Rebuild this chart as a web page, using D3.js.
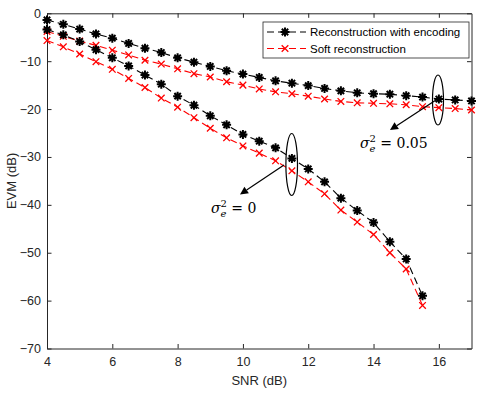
<!DOCTYPE html>
<html>
<head>
<meta charset="utf-8">
<script src="https://cdn.jsdelivr.net/npm/d3@7"></script>
<style>
  body { margin: 0; background: #fff; }
  text { font-family: "Liberation Sans", Arial, sans-serif; }
</style>
</head>
<body>
<svg id="chart" width="479" height="393"></svg>
<script>
// SNR values (dB)
let snrHigh = d3.range(4, 17.01, 0.5);   // sigma_e^2 = 0.05 curves
let snrLow = d3.range(4, 15.51, 0.5);    // sigma_e^2 = 0 curves

// sigma_e^2 = 0.05
let encHigh = [-1.4, -2.3, -3.3, -4.3, -5.2, -6.3, -7.3, -8.2, -9.3, -10.2, -11.1, -12.0, -12.7, -13.4,
  -14.1, -14.6, -15.1, -15.7, -16.2, -16.6, -16.8, -16.9, -17.2, -17.5, -17.9, -18.1, -18.3];
let softHigh = [-3.8, -4.8, -5.8, -6.7, -7.7, -8.7, -9.8, -10.6, -11.6, -12.6, -13.3, -14.3, -15.0, -15.8,
  -16.4, -16.8, -17.3, -17.9, -18.4, -18.7, -18.8, -18.9, -19.1, -19.5, -19.7, -19.9, -20.2];

// sigma_e^2 = 0
let encLow = [-3.4, -4.5, -5.9, -7.6, -9.3, -11.0, -12.9, -14.8, -17.3, -19.2, -21.4, -23.3, -25.3, -26.7,
  -28.1, -30.3, -32.5, -35.2, -38.6, -41.2, -43.7, -47.7, -51.3, -59.0];
let softLow = [-5.7, -7.0, -8.5, -10.1, -11.7, -13.6, -15.5, -17.7, -19.6, -21.8, -24.0, -26.0, -27.7, -29.2,
  -30.8, -32.9, -35.2, -37.7, -41.1, -43.6, -46.2, -50.0, -53.4, -61.0];

let xTicks = [4, 6, 8, 10, 12, 14, 16];
let yTicks = [0, -10, -20, -30, -40, -50, -60, -70];

let margin = { top: 13.3, right: 7.5, bottom: 44.5, left: 47 };
let width = 479 - margin.left - margin.right;
let height = 393 - margin.top - margin.bottom;

let svg = d3.select("#chart");
let g = svg.append("g").attr("transform", "translate(" + margin.left + "," + margin.top + ")");

let x = d3.scaleLinear().domain([4, 17]).range([0, width]);
let y = d3.scaleLinear().domain([-70, 0]).range([height, 0]);

let axisColor = "#262626";

// axes with inward ticks
let xAxis = g.append("g").attr("transform", "translate(0," + height + ")")
  .call(d3.axisBottom(x).tickValues(xTicks).tickSizeInner(-4.5).tickSizeOuter(0).tickPadding(9));
let yAxis = g.append("g")
  .call(d3.axisLeft(y).tickValues(yTicks).tickSizeInner(-4.5).tickSizeOuter(0).tickPadding(6));
let xTop = g.append("g")
  .call(d3.axisTop(x).tickValues(xTicks).tickSizeInner(-4.5).tickSizeOuter(0).tickFormat(""));
let yRight = g.append("g").attr("transform", "translate(" + width + ",0)")
  .call(d3.axisRight(y).tickValues(yTicks).tickSizeInner(-4.5).tickSizeOuter(0).tickFormat(""));

[xAxis, yAxis, xTop, yRight].forEach(function (a) {
  a.select(".domain").attr("stroke", axisColor);
  a.selectAll(".tick line").attr("stroke", axisColor);
  a.selectAll(".tick text").attr("fill", axisColor).style("font-size", "12.5px")
    .style("font-family", "'Liberation Sans', Arial, sans-serif");
});

g.append("text")
  .attr("x", width / 2).attr("y", height + 37)
  .attr("text-anchor", "middle").attr("fill", axisColor).style("font-size", "13px")
  .text("SNR (dB)");

g.append("text")
  .attr("transform", "translate(" + (-31) + "," + (height / 2) + ") rotate(-90)")
  .attr("text-anchor", "middle").attr("fill", axisColor).style("font-size", "13px")
  .text("EVM (dB)");

// marker shapes
function starPath(r) {
  let d = "";
  for (let k = 0; k < 4; k++) {
    let a = k * Math.PI / 4;
    let dx = r * Math.cos(a), dy = r * Math.sin(a);
    d += "M" + (-dx) + "," + (-dy) + "L" + dx + "," + dy;
  }
  return d;
}
function crossPath(r) {
  return "M" + (-r) + "," + (-r) + "L" + r + "," + r + "M" + (-r) + "," + r + "L" + r + "," + (-r);
}

let line = d3.line().x(function (d) { return x(d[0]); }).y(function (d) { return y(d[1]); });

let series = [
  { xs: snrHigh, ys: encHigh, color: "#000000", marker: "star" },
  { xs: snrHigh, ys: softHigh, color: "#ff0000", marker: "cross" },
  { xs: snrLow, ys: encLow, color: "#000000", marker: "star" },
  { xs: snrLow, ys: softLow, color: "#ff0000", marker: "cross" }
];

series.forEach(function (s) {
  let pts = s.xs.map(function (v, i) { return [v, s.ys[i]]; });
  g.append("path")
    .datum(pts)
    .attr("d", line)
    .attr("fill", "none")
    .attr("stroke", s.color)
    .attr("stroke-width", 1.1)
    .attr("stroke-dasharray", "7,4");
  g.selectAll(null)
    .data(pts)
    .enter()
    .append("path")
    .attr("transform", function (d) { return "translate(" + x(d[0]) + "," + y(d[1]) + ")"; })
    .attr("d", s.marker === "star" ? starPath(4.5) : crossPath(3.3))
    .attr("stroke", s.color)
    .attr("stroke-width", s.marker === "star" ? 2 : 1.3)
    .attr("fill", "none");
});

// legend
let legend = svg.append("g").attr("transform", "translate(263,22)");
legend.append("rect")
  .attr("width", 206).attr("height", 36)
  .attr("fill", "#fff").attr("stroke", axisColor).attr("stroke-width", 0.8);
let legendItems = [
  { label: "Reconstruction with encoding", color: "#000000", marker: "star" },
  { label: "Soft reconstruction", color: "#ff0000", marker: "cross" }
];
legendItems.forEach(function (item, i) {
  let ly = 10 + i * 16.5;
  legend.append("line")
    .attr("x1", 3).attr("x2", 43).attr("y1", ly).attr("y2", ly)
    .attr("stroke", item.color).attr("stroke-width", 1.1).attr("stroke-dasharray", "7,4").attr("stroke-dashoffset", -1);
  legend.append("path")
    .attr("transform", "translate(22," + ly + ")")
    .attr("d", item.marker === "star" ? starPath(4.5) : crossPath(3.3))
    .attr("stroke", item.color).attr("stroke-width", item.marker === "star" ? 2 : 1.3);
  legend.append("text")
    .attr("x", 47).attr("y", ly + 4)
    .attr("fill", "#000").style("font-size", "11.5px")
    .text(item.label);
});

// annotations
function annotate(cx, cy, rx, ry, x1, y1, x2, y2, tx, ty, value) {
  svg.append("ellipse")
    .attr("cx", cx).attr("cy", cy).attr("rx", rx).attr("ry", ry)
    .attr("fill", "none").attr("stroke", "#000").attr("stroke-width", 1.2);
  let ang = Math.atan2(y2 - y1, x2 - x1);
  let hl = 8, hw = 4;
  let bx = x2 - hl * Math.cos(ang), by = y2 - hl * Math.sin(ang);
  svg.append("line")
    .attr("x1", x1).attr("y1", y1).attr("x2", bx).attr("y2", by)
    .attr("stroke", "#000").attr("stroke-width", 1.2);
  svg.append("path")
    .attr("d", "M" + x2 + "," + y2 +
      "L" + (bx + hw * Math.sin(ang)) + "," + (by - hw * Math.cos(ang)) +
      "L" + (bx - hw * Math.sin(ang)) + "," + (by + hw * Math.cos(ang)) + "Z")
    .attr("fill", "#000");
  let t = svg.append("text")
    .attr("x", tx).attr("y", ty)
    .style("font-family", "'DejaVu Serif', 'Liberation Serif', serif")
    .style("font-size", "14px").attr("fill", "#000");
  t.append("tspan").style("font-style", "italic").text("σ");
  t.append("tspan").attr("dy", 4).style("font-size", "10px").style("font-style", "italic").text("e");
  t.append("tspan").attr("dx", -6).attr("dy", -10).style("font-size", "10px").text("2");
  t.append("tspan").attr("dy", 6).text(" = " + value);
}

annotate(291.7, 164.5, 5.8, 31, 284, 165, 240, 194.5, 211, 213, "0");
annotate(438, 100, 5.5, 25, 436, 100, 390, 130, 360, 148, "0.05");
</script>
</body>
</html>
